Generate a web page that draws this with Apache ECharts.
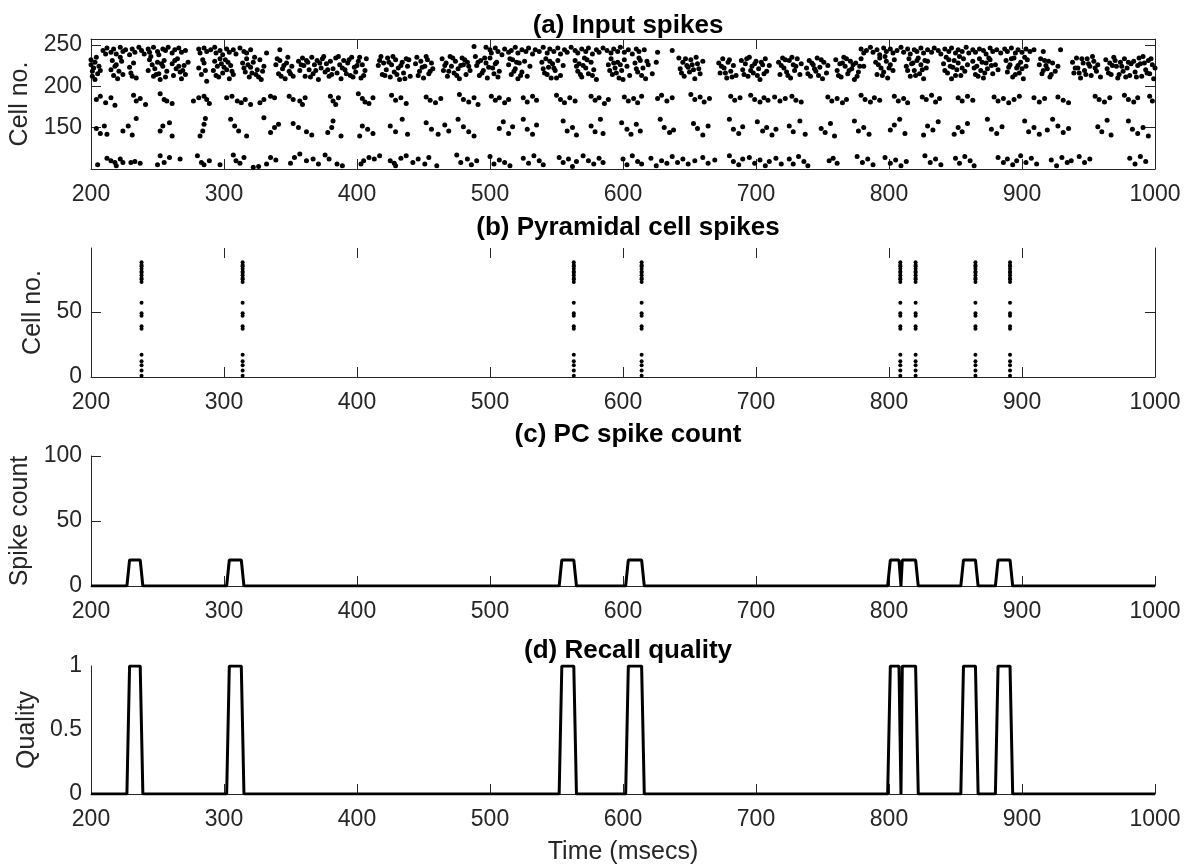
<!DOCTYPE html>
<html>
<head>
<meta charset="utf-8">
<title>Recall dynamics</title>
<script src="https://cdn.jsdelivr.net/npm/echarts@6/dist/echarts.min.js"></script>
<style>
  html, body { margin: 0; padding: 0; background: #fff; }
  #chart1 { width: 1189px; height: 868px; }
</style>
</head>
<body>
<div id="chart1"></div>
<script>
// (a) input spikes, [time ms, cell no.] read off the raster band by band
var inputTopBand = [
    [209,243],[211,239],[212,246],[215,241],[217,245],[219,239],[222,247],[224,242],[226,244],[229,238],
    [231,245],[233,241],[236,247],[238,243],[240,239],[243,245],[244,241],[247,247],[250,242],[251,238],
    [254,245],[256,243],[258,247],[261,240],[263,244],[266,246],[268,241],[271,243],[281,245],[282,240],
    [285,246],[287,242],[290,244],[293,247],[294,240],[297,243],[299,238],[302,245],[304,241],[307,244],
    [309,239],[312,246],[315,242],[317,240],[320,244],[332,240],[342,244],
    [488,248],[497,247],[500,244],[501,240],[504,246],[506,242],[509,238],[511,245],[514,241],[516,243],
    [519,247],[521,240],[524,244],[527,242],[529,246],[532,239],[534,244],[537,242],[540,247],[543,240],
    [545,245],[548,242],[551,246],[553,239],[556,244],[558,241],[561,247],[564,243],[566,240],[569,245],
    [572,242],[574,246],[577,239],[580,244],[582,241],[585,246],[588,243],[591,240],[593,245],[596,242],
    [598,247],[601,241],[604,244],[607,239],[610,245],[612,242],[616,244],[626,241],[637,243],
    [779,245],[781,240],[783,243],[786,247],[788,241],[791,244],[793,238],[796,246],[798,242],[801,245],
    [803,240],[806,243],[809,247],[811,241],[814,245],[816,239],[819,244],[821,242],[824,246],[826,240],
    [829,244],[832,241],[834,246],[837,243],[839,239],[842,245],[845,242],[847,246],[850,240],[852,244],
    [855,242],[858,247],[860,240],[863,244],[865,241],[868,245],[871,243],[873,239],[876,246],[878,242],
    [881,244],[884,240],[887,245],[889,242],[892,246],[895,240],[897,244],[900,241],[903,245],[906,242],
    [909,244],[916,242],[929,244]
];
var inputDenseBand = [
    [200,232],[200,226],[201,218],[201,212],[202,222],[203,229],[203,208],[205,215],[206,224],
    [215,220],[216,231],[217,213],[219,226],[220,209],[221,218],[223,230],[224,214],
    [229,223],[230,216],[232,228],[234,210],
    [243,219],[244,232],[246,226],[247,212],[248,221],[250,229],[251,215],[252,208],[254,224],[255,231],[257,218],
    [261,227],[262,213],[264,221],[265,233],[267,217],[268,209],[270,225],[271,214],[273,229],
    [281,222],[283,214],[285,228],[287,206],
    [292,219],[293,230],[295,224],[296,211],[298,227],[299,216],[301,232],[302,220],[304,209],[305,225],[307,214],
    [314,228],[316,217],[317,233],[319,211],[320,223],[322,229],[324,214],[325,220],[327,232],[328,208],[330,224],
    [339,226],[341,215],[342,231],[344,221],[346,209],[347,228],[349,218],[351,224],[352,212],
    [356,230],[357,219],[359,234],[360,225],[361,212],[363,229],[364,220],[366,235],[367,215],[368,226],
    [370,231],[371,208],[373,222],[374,233],[376,217],[377,227],[379,212],[380,230],[382,221],
    [384,234],[385,216],[387,226],[388,209],[390,231],[391,220],[393,228],[395,213],[396,235],[398,223],
    [399,217],[401,230],[403,210],[404,226],[406,219],[407,233],
    [416,225],[417,231],[419,214],[420,228],[422,220],[423,234],[425,211],[426,226],[428,217],[429,232],
    [431,222],[432,208],[434,229],[435,216],[437,233],[438,224],[440,212],
    [444,227],[445,235],[447,218],[448,230],[450,210],[451,224],[453,232],[454,215],[456,228],[457,221],
    [464,233],[465,219],[467,228],[468,212],[470,236],[471,224],[473,216],[474,230],[476,221],[477,209],
    [479,234],[480,226],[482,214],[483,229],[485,219],
    [489,236],[490,225],[492,213],[493,231],[495,219],[497,228],[498,210],[500,234],[502,222],[503,215],
    [505,229],[507,218],
    [514,226],[516,214],[517,232],[519,221],[521,209],[522,228],[524,217],[526,230],[528,212],[530,224],
    [539,229],[541,216],[542,233],[544,223],[546,210],[547,227],[549,219],[551,231],[553,213],[555,225],
    [564,231],[566,218],[567,227],[569,211],[571,234],[572,222],[574,215],[576,229],[578,220],[580,208],
    [589,226],[591,233],[592,214],[594,222],[596,229],[597,210],[599,219],[601,232],[603,224],[605,213],
    [609,228],[611,217],[613,231],[615,222],[617,209],[619,226],[622,215],[625,229],
    [642,234],[643,221],[645,229],[646,212],[648,225],[650,217],[651,232],[653,220],[654,209],[656,227],
    [658,215],[660,230],
    [672,228],[673,216],[675,233],[676,222],[678,210],[679,229],[681,218],[683,225],[685,213],
    [689,231],[690,220],[692,227],[694,212],[695,235],[697,224],[698,216],[700,230],[702,221],[703,208],
    [705,226],[707,233],[708,218],[710,225],
    [717,229],[718,214],[720,234],[721,222],[723,217],[725,231],[726,210],[728,226],[729,219],[731,233],
    [733,214],[734,227],
    [738,222],[740,231],[741,212],[743,226],[745,218],[746,234],[748,223],[750,209],[751,229],[753,216],[754,225],
    [760,232],[761,219],[763,227],[764,211],[766,235],[767,224],[769,215],[771,230],[772,221],[774,208],
    [775,228],[777,217],[779,233],[781,224],
    [790,229],[791,214],[793,234],[794,222],[796,217],[798,230],[799,210],[801,226],[803,219],[804,232],
    [813,224],[815,233],[816,212],[818,228],[819,219],[821,231],[823,215],[824,226],[826,209],[828,222],[829,230],
    [841,227],[843,235],[844,216],[846,224],[847,209],[849,231],[851,220],[852,228],[854,213],[856,233],
    [857,218],[859,226],
    [863,230],[865,214],[866,224],[868,233],[869,219],[871,210],[873,228],[874,221],[876,232],[878,215],
    [880,226],[882,220],
    [888,231],[889,217],[891,226],[893,211],[894,234],[896,222],[898,216],[899,229],[901,209],[903,224],[904,232],
    [913,226],[915,215],[917,231],[919,221],[921,211],[923,228],[925,218],[927,224],
    [938,229],[939,216],[941,234],[942,222],[944,210],[946,228],[947,219],[949,233],[951,224],[952,213],
    [954,230],[956,218],[957,226],[959,211],
    [963,232],[964,221],[966,228],[967,214],[969,235],[971,224],[972,210],[974,229],[976,218],[977,233],
    [979,222],[981,213],[982,227],
    [984,230],[985,217],[987,225],[988,234],[990,212],[992,228],[993,220],[995,231],[996,215],[998,226],
    [999,209],[1000,222],
    // second pass over the same bursts, the dots that overlap in the picture
    [204,235],[207,219],[218,224],[222,235],[231,212],[245,236],[249,214],[253,227],[256,211],[263,231],
    [266,224],[269,219],[284,232],[286,219],[294,213],[297,233],[300,223],[303,229],[306,218],[315,222],
    [318,226],[321,216],[323,235],[326,211],[329,218],[340,233],[343,212],[345,225],[348,235],[350,215],
    [358,226],[362,231],[365,211],[369,219],[372,228],[375,236],[378,220],[381,214],[386,236],[389,222],
    [392,215],[394,232],[397,211],[400,225],[402,235],[405,213],[418,236],[421,213],[424,229],[427,236],
    [430,214],[433,225],[436,209],[439,232],[446,213],[449,223],[452,236],[455,218],[466,225],[469,218],
    [472,234],[475,213],[478,225],[481,232],[484,224],[491,229],[494,216],[496,234],[499,223],[504,227],
    [506,211],[515,233],[518,218],[520,229],[523,213],[540,221],[543,214],[545,230],[548,222],[550,210],
    [565,224],[568,214],[570,225],[573,232],[577,213],[590,219],[593,228],[595,216],[598,226],[600,208],
    [610,221],[612,234],[614,213],[618,230],[644,216],[647,233],[649,223],[652,226],[655,235],[657,221],
    [674,224],[677,216],[680,232],[682,211],[691,214],[693,233],[696,219],[699,227],[701,213],[704,229],
    [706,215],[719,225],[722,232],[724,213],[727,235],[730,224],[739,215],[742,228],[744,221],[747,213],
    [749,232],[762,213],[765,228],[768,233],[770,219],[773,226],[776,212],[778,224],[792,226],[795,213],
    [797,236],[800,222],[814,219],[817,227],[820,213],[822,234],[825,220],[827,231],[842,219],[845,232],
    [848,223],[850,213],[853,236],[855,222],[864,222],[867,212],[870,229],[872,216],[875,234],[877,225],
    [890,223],[892,233],[895,214],[897,225],[900,221],[902,235],[914,233],[916,219],[918,225],[920,230],
    [922,214],[940,222],[943,216],[945,233],[948,214],[950,227],[953,236],[955,222],[965,216],[968,225],
    [970,231],[973,214],[975,224],[978,211],[980,229],[986,211],[989,227],[991,236],[994,216],[997,233]
];
var inputUpperBand = [
    [204,184],[207,188],[211,180],[215,186],[218,177],[232,189],[234,182],[237,185],[241,178],
    [252,191],[255,184],[257,182],[261,179],[277,182],[281,186],[285,188],[287,184],[289,179],
    [302,186],[306,188],[310,182],[313,180],[316,184],[320,178],[327,180],[330,184],[335,188],[338,186],
    [349,188],[352,184],[357,182],[359,178],[361,186],[380,188],[382,182],[384,178],[386,186],
    [401,191],[404,185],[406,181],[409,179],[412,186],
    [426,189],[429,183],[433,186],[437,179],[452,187],[455,183],[459,180],[463,185],
    [477,190],[480,184],[484,181],[488,186],[491,178],[501,188],[504,183],[507,186],[511,180],[514,184],
    [525,186],[528,181],[532,188],[535,183],[550,189],[553,184],[556,180],[560,186],[564,182],
    [576,188],[579,183],[582,186],[586,179],[589,184],[601,187],[604,182],[608,185],[611,180],[614,188],
    [626,185],[629,189],[633,182],[637,186],[651,190],[654,184],[658,187],[661,181],[665,185],
    [681,188],[684,183],[688,186],[696,189],[699,184],[703,181],[706,186],[709,183],[714,187],[718,182],[722,185],
    [727,188],[730,183],[734,181],[754,187],[757,182],[761,185],[765,180],[768,184],
    [779,189],[782,184],[786,181],[789,186],[793,183],[804,188],[807,182],[811,185],[814,180],
    [825,187],[828,184],[832,189],[835,181],[838,185],[852,186],[855,182],[859,188],[863,183],
    [879,187],[882,182],[886,185],[890,180],[894,184],[898,188],[909,186],[913,181],[917,185],
    [927,187],[931,183],[935,180],[955,188],[958,184],[962,181],[966,186],
    [977,189],[980,184],[984,181],[987,186],[996,188],[998,182]
];
var inputMiddleBand = [
    [204,149],[207,143],[210,152],[212,142],[224,146],[228,152],[231,141],[234,161],
    [252,146],[254,152],[259,156],[261,140],[282,140],[284,146],[285,154],[286,161],
    [305,160],[308,152],[311,146],[317,140],[330,162],[335,144],[338,150],[341,154],
    [352,155],[356,150],[362,145],[366,141],[378,144],[381,150],[382,158],[388,140],
    [402,140],[404,152],[408,148],[412,143],
    [425,152],[429,145],[434,160],[438,142],[452,156],[456,148],[461,142],[466,153],[469,146],
    [476,160],[480,151],[484,145],[488,140],[507,149],[510,157],[514,143],[517,151],
    [525,160],[528,148],[532,142],[535,153],[555,158],[558,146],[562,150],[565,141],
    [576,152],[579,145],[583,160],[585,143],[599,156],[603,148],[606,142],[610,154],[613,146],
    [628,160],[631,150],[635,144],[638,147],[653,155],[656,149],[660,141],[664,152],
    [680,160],[683,148],[687,143],[690,151],[701,157],[705,146],[708,150],[712,141],[715,148],
    [725,152],[728,145],[733,158],[737,142],[749,149],[752,144],[756,155],[759,140],
    [774,158],[777,146],[781,150],[785,142],[801,147],[804,153],[808,160],[812,143],
    [826,141],[829,152],[833,147],[837,157],[849,142],[852,150],[855,145],[859,155],
    [874,160],[877,148],[881,143],[885,151],[902,158],[905,145],[909,150],[913,142],
    [919,147],[923,160],[927,152],[931,144],[935,149],[957,151],[960,145],[964,159],[967,141],
    [980,158],[983,148],[987,143],[991,150],[995,140]
];
var inputLowerBand = [
    [205,105],[212,113],[215,110],[218,108],[219,104],[222,112],[224,108],[230,108],[233,109],[237,107],
    [250,105],[252,116],[255,108],[259,114],[267,112],[280,116],[283,108],[285,105],[289,110],[297,105],
    [307,117],[309,110],[312,107],[315,114],[322,102],[326,103],[332,106],[335,114],[339,111],
    [350,107],[353,114],[357,118],[362,110],[367,112],[371,106],[376,117],[379,112],[385,106],[389,104],
    [403,106],[405,110],[409,114],[413,112],[417,116],[425,110],[428,107],[429,104],[433,113],
    [437,116],[442,108],[446,112],[451,106],[454,114],[460,104],
    [475,117],[478,108],[483,112],[486,105],[490,110],[500,115],[503,106],[507,111],[511,108],[515,104],
    [525,113],[529,107],[533,116],[537,110],[540,105],[552,114],[555,108],[559,112],[562,103],[565,109],
    [570,116],[574,110],[578,106],[582,113],[585,108],[600,112],[603,105],[607,116],[611,109],[614,106],
    [621,113],[625,104],[629,110],[633,107],[637,115],[641,108],[645,112],[649,106],[654,110],
    [660,114],[664,107],[669,111],[680,116],[683,109],[687,105],[690,112],
    [695,114],[699,107],[703,111],[707,104],[710,109],[715,113],[719,106],
    [725,112],[728,106],[732,115],[736,109],[739,104],[755,110],[758,113],[761,107],
    [776,115],[780,108],[784,112],[788,105],[797,114],[801,107],[805,111],[809,104],[813,109],
    [827,116],[831,108],[835,112],[839,105],[850,113],[853,107],[857,115],[861,110],[864,104],
    [882,114],[886,108],[889,112],[893,105],[896,110],[899,116],[903,108],[907,113],[911,106],
    [922,111],[926,104],[930,114],[934,108],[937,110],[943,115],[947,108],[951,112],
    [981,113],[985,106],[989,115],[993,109]
];

// (b) pyramidal cell spikes: recall events and the cells that fire in each
var pcSpikeTimes = [238, 314, 563, 614, 808.5, 820, 865, 891];
var pcCells = [1, 5, 9, 12, 17, 37, 39, 47, 49, 57, 73, 75, 76, 78, 80, 81, 83, 85, 86, 88];

// (c) PC spike count and (d) recall quality, [time ms, value]
var spikeCount = [
    [200,0],[227,0],[229,20],[237,20],[239,0],[302,0],[304,20],[313,20],[315,0],
    [552,0],[554,20],[563,20],[565,0],[602,0],[604,20],[614,20],[616,0],
    [799,0],[801,20],[807.5,20],[809,0],[810,20],[820,20],[822,0],
    [854,0],[856,20],[865,20],[867,0],[880,0],[882,20],[891,20],[893,0],[1000,0]
];
var recallQuality = [
    [200,0],[227,0],[229,1],[237,1],[239,0],[302,0],[304,1],[313,1],[315,0],
    [552,0],[554,1],[563,1],[565,0],[602,0],[604,1],[614,1],[616,0],
    [799,0],[801,1],[807.5,1],[809,0],[810,1],[820,1],[822,0],
    [854,0],[856,1],[865,1],[867,0],[880,0],[882,1],[891,1],[893,0],[1000,0]
];

var titles = ['(a) Input spikes', '(b) Pyramidal cell spikes', '(c) PC spike count', '(d) Recall quality'];
var titleTops = [8, 210, 417, 633];

var axisColor = '#262626';
var fontFamily = 'Liberation Sans, Arial, Helvetica, sans-serif';

var chart1 = echarts.init(document.getElementById('chart1'), null, {renderer: 'canvas'});

var pcData = [];
pcSpikeTimes.forEach(function (t) {
    pcCells.forEach(function (c) {
        pcData.push([t, c]);
    });
});

function plainNumber(v) {
    return String(v);
}

function timeAxis(gridIndex, position, showLine, showLabel, name) {
    return {
        type: 'value',
        gridIndex: gridIndex,
        position: position,
        min: 200,
        max: 1000,
        interval: 100,
        name: name || '',
        nameLocation: 'middle',
        nameGap: 46,
        nameTextStyle: {color: axisColor, fontSize: 25, fontFamily: fontFamily},
        axisLine: {show: showLine, onZero: false, lineStyle: {color: axisColor, width: 1}},
        axisTick: {show: true, inside: true, length: 10, lineStyle: {color: axisColor, width: 1}},
        axisLabel: {show: showLabel, color: axisColor, fontSize: 23, fontFamily: fontFamily, margin: 14,
            formatter: plainNumber},
        splitLine: {show: false}
    };
}

function valueAxis(gridIndex, position, cfg) {
    return {
        type: 'value',
        gridIndex: gridIndex,
        position: position,
        min: cfg.min,
        max: cfg.max,
        interval: cfg.interval,
        name: cfg.name || '',
        nameLocation: 'middle',
        nameGap: cfg.nameGap || 50,
        nameTextStyle: {color: axisColor, fontSize: 25, fontFamily: fontFamily},
        axisLine: {show: cfg.line !== false, onZero: false, lineStyle: {color: axisColor, width: 1}},
        axisTick: {show: cfg.ticks !== false, inside: true, length: 10, customValues: cfg.tickValues,
            lineStyle: {color: axisColor, width: 1}},
        axisLabel: {show: cfg.labels !== false, color: axisColor, fontSize: 23, fontFamily: fontFamily,
            margin: 9, customValues: cfg.labelValues, formatter: plainNumber},
        splitLine: {show: false}
    };
}

var option = {
    animation: false,
    backgroundColor: '#fff',
    title: titles.map(function (t, i) {
        return {
            text: t,
            left: 623,
            top: titleTops[i],
            textAlign: 'center',
            textStyle: {color: '#000', fontSize: 26, fontWeight: 'bold', fontFamily: fontFamily}
        };
    }),
    grid: [
        {left: 91, right: 34, top: 39, height: 130, outerBoundsMode: 'none'},
        {left: 91, right: 34, top: 248, height: 129, outerBoundsMode: 'none'},
        {left: 91, right: 34, top: 456, height: 130, outerBoundsMode: 'none'},
        {left: 91, right: 34, top: 666, height: 128, outerBoundsMode: 'none'}
    ],
    xAxis: [
        timeAxis(0, 'bottom', true, true),
        timeAxis(1, 'bottom', true, true),
        timeAxis(2, 'bottom', true, true),
        timeAxis(3, 'bottom', true, true, 'Time (msecs)'),
        timeAxis(0, 'top', true, false),
        timeAxis(1, 'top', false, false)
    ],
    yAxis: [
        valueAxis(0, 'left', {min: 100, max: 257, name: 'Cell no.', nameGap: 50,
            tickValues: [150, 200, 250], labelValues: [150, 200, 250]}),
        valueAxis(1, 'left', {min: 0, max: 99, name: 'Cell no.', nameGap: 39,
            tickValues: [0, 50], labelValues: [0, 50]}),
        valueAxis(2, 'left', {min: 0, max: 100, interval: 50, name: 'Spike count', nameGap: 47}),
        valueAxis(3, 'left', {min: 0, max: 1, interval: 0.5, name: 'Quality', nameGap: 49, ticks: false}),
        valueAxis(0, 'right', {min: 100, max: 257, labels: false, tickValues: [150, 200, 250]}),
        valueAxis(1, 'right', {min: 0, max: 99, labels: false, tickValues: [50]})
    ],
    series: [
        {
            type: 'scatter', xAxisIndex: 0, yAxisIndex: 0,
            symbol: 'circle', symbolSize: 5,
            itemStyle: {color: '#000', opacity: 1},
            data: inputTopBand.concat(inputDenseBand, inputUpperBand, inputMiddleBand, inputLowerBand)
        },
        {
            type: 'scatter', xAxisIndex: 1, yAxisIndex: 1,
            symbol: 'circle', symbolSize: 4,
            itemStyle: {color: '#000', opacity: 1},
            data: pcData
        },
        {
            type: 'line', xAxisIndex: 2, yAxisIndex: 2,
            symbol: 'none',
            lineStyle: {color: '#000', width: 3},
            data: spikeCount
        },
        {
            type: 'line', xAxisIndex: 3, yAxisIndex: 3,
            symbol: 'none',
            lineStyle: {color: '#000', width: 3},
            data: recallQuality
        }
    ]
};
chart1.setOption(option, true);
</script>
</body>
</html>
